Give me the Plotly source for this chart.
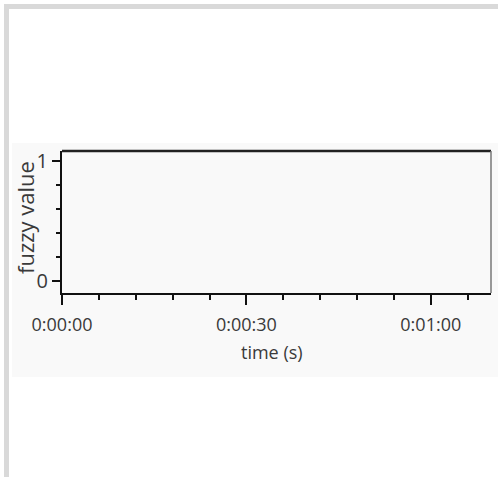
import plotly.graph_objects as go

# Data (chart is empty: no series drawn)
time_s = []
fuzzy_values = []
x_tick_values = [0, 30, 60]
x_tick_labels = ["0:00:00", "0:00:30", "0:01:00"]
y_tick_values = [0, 1]
y_tick_labels = ["0", "1"]
x_title = "time (s)"
y_title = "fuzzy value"

W, H = 498, 477
L, R, T, B = 62, 491, 151, 293

def px(x):
    return (x - L) / (R - L)

def py(y):
    return (B - y) / (B - T)

FONT = "Open Sans"
TXT = "#3a3a3a"

fig = go.Figure()
fig.add_trace(go.Scatter(x=time_s, y=fuzzy_values, mode="lines",
                         line=dict(color="#000000"), showlegend=False))

shapes = [
    dict(type="rect", xref="paper", yref="paper", layer="below",
         x0=px(12), x1=px(499), y0=py(377), y1=py(143),
         fillcolor="#f9f9f9", line=dict(width=0)),
    dict(type="rect", xref="paper", yref="paper", layer="below",
         x0=px(4), x1=px(499), y0=py(9), y1=py(4),
         fillcolor="#d9d9d9", line=dict(width=0)),
    dict(type="rect", xref="paper", yref="paper", layer="below",
         x0=px(4), x1=px(9), y0=py(478), y1=py(4),
         fillcolor="#d9d9d9", line=dict(width=0)),
    dict(type="line", xref="paper", yref="paper",
         x0=0, x1=1, y0=1, y1=1, line=dict(color="#222222", width=2.5)),
    dict(type="line", xref="paper", yref="paper",
         x0=1, x1=1, y0=0, y1=1, line=dict(color="#777777", width=1.5)),
]

annotations = [
    dict(text=x_title, xref="paper", yref="paper", x=px(272), y=py(352),
         xanchor="center", yanchor="middle", showarrow=False,
         font=dict(family=FONT, size=18, color=TXT)),
    dict(text=y_title, xref="paper", yref="paper", x=px(25), y=py(218),
         xanchor="center", yanchor="middle", showarrow=False, textangle=-90,
         font=dict(family=FONT, size=22, color=TXT)),
]

fig.update_layout(
    width=W, height=H,
    margin=dict(l=L, r=W - R, t=T, b=H - B, pad=0),
    paper_bgcolor="#ffffff",
    plot_bgcolor="#fbfbfb",
    shapes=shapes,
    annotations=annotations,
    showlegend=False,
    font=dict(family=FONT, color=TXT, size=17),
    xaxis=dict(
        range=[0, 69.8], showgrid=False, zeroline=False,
        showline=True, linecolor="#111111", linewidth=2,
        tickmode="array", tickvals=x_tick_values, ticktext=x_tick_labels,
        ticks="outside", ticklen=10, tickwidth=1.5, tickcolor="#111111",
        ticklabelstandoff=4,
        minor=dict(dtick=6, tick0=0, ticks="outside", ticklen=5,
                   tickwidth=1.5, tickcolor="#111111", showgrid=False),
        tickfont=dict(family=FONT, size=18, color=TXT),
    ),
    yaxis=dict(
        range=[-0.1, 1.083], showgrid=False, zeroline=False,
        showline=True, linecolor="#111111", linewidth=2,
        tickmode="array", tickvals=y_tick_values, ticktext=y_tick_labels,
        ticks="outside", ticklen=8, tickwidth=1.5, tickcolor="#111111",
        minor=dict(dtick=0.2, tick0=0, ticks="outside", ticklen=4,
                   tickwidth=1.5, tickcolor="#111111", showgrid=False),
        tickfont=dict(family=FONT, size=20, color=TXT),
    ),
)

fig.write_html("out.html", config={"displayModeBar": False},
               post_script="document.body.style.margin='0';document.body.style.padding='0';")
